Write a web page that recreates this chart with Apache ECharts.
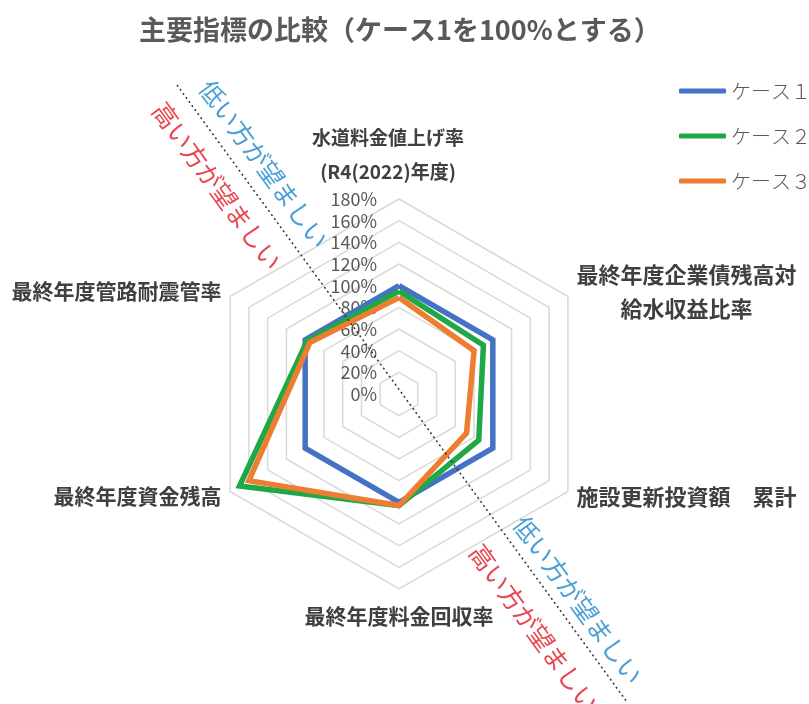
<!DOCTYPE html>
<html><head><meta charset="utf-8">
<script src="https://cdn.jsdelivr.net/npm/echarts@6/dist/echarts.min.js"></script>
<style>html,body{margin:0;padding:0;background:#fff}#c{width:809px;height:704px}</style>
</head><body><div id="c"></div>
<script>
// Indicators in ECharts order (counter-clockwise starting at top)
const indicatorNames = [
  '水道料金値上げ率\n(R4(2022)年度)',
  '最終年度管路耐震管率',
  '最終年度資金残高',
  '最終年度料金回収率',
  '施設更新投資額　累計',
  '最終年度企業債残高対\n　　給水収益比率'
];
const seriesNames = ['ケース１', 'ケース２', 'ケース３'];
const case1 = [100, 100, 100, 100, 100, 100];
const case2 = [95, 98, 170, 103, 85, 90];
const case3 = [89, 95, 160, 103, 72, 80];
const tickLabels = ['0%', '20%', '40%', '60%', '80%', '100%', '120%', '140%', '160%', '180%'];
const axisMax = 180;
const colors = ['#4472C4', '#1FA846', '#ED7D31'];

const FONT = '"Noto Sans CJK JP", "Noto Sans", sans-serif';
const chart = echarts.init(document.getElementById('c'), null, {renderer: 'canvas'});

const nameSizes = [19, 21, 21, 21, 22, 22];
const indicators = indicatorNames.map((n, i) => {
  const o = {name: n, max: axisMax, min: 0, nameTextStyle: {fontSize: nameSizes[i]}};
  if (i === 0) {
    o.axisLabel = {show: true};
    o.nameTextStyle.padding = [0, 22, 0, 0];
  }
  return o;
});

const lineAngle = -Math.atan2(608, 443);

chart.setOption({
  animation: false,
  color: colors,
  title: {
    text: '主要指標の比較（ケース1を100%とする）',
    left: 134, top: 11,
    textStyle: {fontFamily: FONT, fontSize: 27, fontWeight: 'bold', color: '#595959'}
  },
  legend: {
    orient: 'vertical', left: 674, top: 76,
    itemWidth: 47, itemHeight: 5, itemGap: 25, icon: 'roundRect',
    data: seriesNames,
    textStyle: {fontFamily: FONT, fontSize: 20, color: '#595959', fontWeight: 300}
  },
  radar: {
    center: [399, 394],
    radius: 195,
    startAngle: 90,
    splitNumber: 9,
    shape: 'polygon',
    indicator: indicators,
    nameGap: 10,
    axisName: {
      fontFamily: FONT, fontSize: 20, fontWeight: 'bold', color: '#404040', lineHeight: 34
    },
    axisLine: {show: false},
    axisTick: {show: false},
    axisLabel: {
      show: false, fontFamily: FONT, fontSize: 18, color: '#595959',
      margin: 22,
      formatter: v => tickLabels[Math.round(v / 20)]
    },
    splitLine: {lineStyle: {color: '#D9D9D9', width: 1.5}},
    splitArea: {show: false}
  },
  series: [{
    type: 'radar',
    symbol: 'none',
    lineStyle: {width: 5.5, join: 'miter'},
    data: [
      {name: seriesNames[0], value: case1, lineStyle: {color: colors[0]}, itemStyle: {color: colors[0]}},
      {name: seriesNames[1], value: case2, lineStyle: {color: colors[1]}, itemStyle: {color: colors[1]}},
      {name: seriesNames[2], value: case3, lineStyle: {color: colors[2]}, itemStyle: {color: colors[2]}}
    ]
  }],
  graphic: [
    {type: 'line', z: 100, shape: {x1: 177, y1: 85, x2: 627, y2: 702},
     style: {stroke: '#333', lineWidth: 1.5, lineDash: [2, 3]}},
    {type: 'text', z: 100, x: 264, y: 164, rotation: lineAngle,
     style: {text: '低い方が望ましい', fill: '#4A9FD5', font: '25px ' + FONT, textAlign: 'center', textVerticalAlign: 'middle'}},
    {type: 'text', z: 100, x: 217, y: 186, rotation: lineAngle,
     style: {text: '高い方が望ましい', fill: '#E8474F', font: '25px ' + FONT, textAlign: 'center', textVerticalAlign: 'middle'}},
    {type: 'text', z: 100, x: 578, y: 600, rotation: lineAngle,
     style: {text: '低い方が望ましい', fill: '#4A9FD5', font: '25px ' + FONT, textAlign: 'center', textVerticalAlign: 'middle'}},
    {type: 'text', z: 100, x: 534, y: 628, rotation: lineAngle,
     style: {text: '高い方が望ましい', fill: '#E8474F', font: '25px ' + FONT, textAlign: 'center', textVerticalAlign: 'middle'}}
  ]
});
</script>
</body></html>
